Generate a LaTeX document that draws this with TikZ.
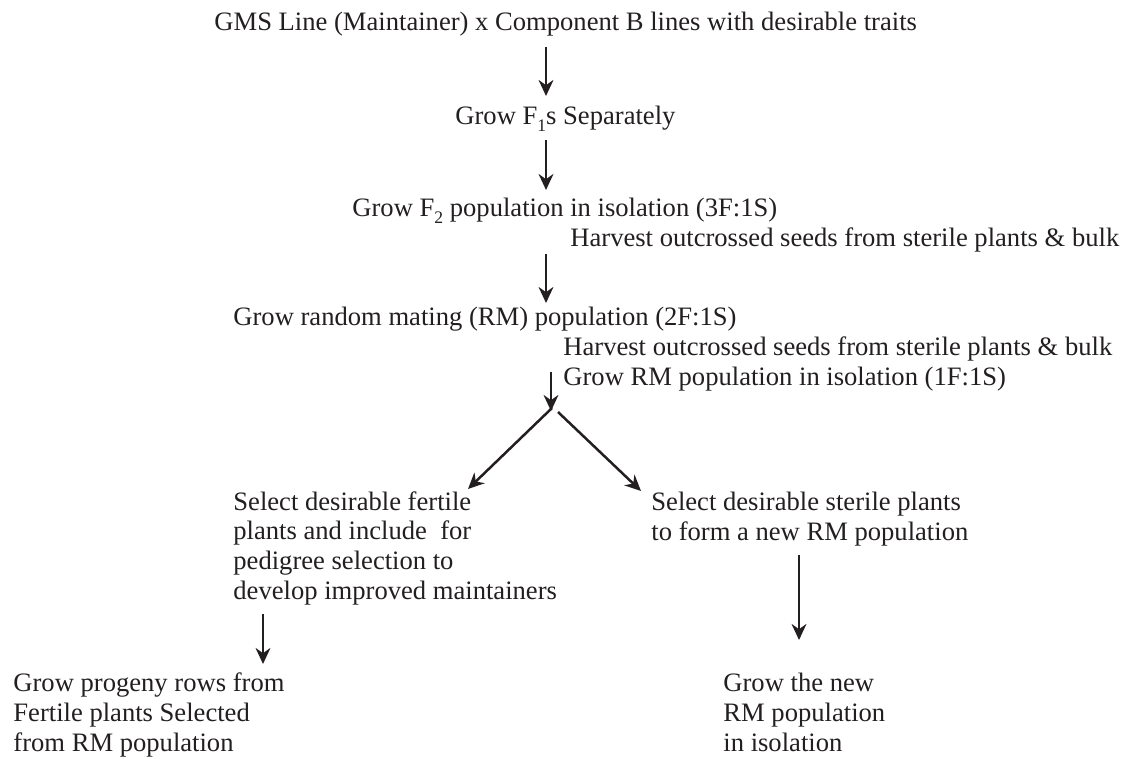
\documentclass[tikz,border=0pt]{standalone}
\usepackage{fontspec}
\setmainfont{Liberation Serif}
\usetikzlibrary{arrows.meta}
\definecolor{ink}{RGB}{35,31,32}
\newcommand{\lowsub}[1]{\raisebox{-3.2pt}{\fontsize{8.8}{8.8}\selectfont #1}}

\begin{document}
\begin{tikzpicture}[
  x=0.5pt, y=-0.5pt,
  txt/.style={anchor=base west, inner sep=0pt, align=left, text=ink,
              font=\fontsize{13.3}{14.8}\selectfont},
  flow/.style={-{Stealth[length=8pt,width=7.4pt,inset=2.6pt]}, draw=ink, line width=1.25pt}
]
\useasboundingbox (0,0) rectangle (1123,759);

% main spine
\node[txt] (gms)   at (214,31)  {GMS Line (Maintainer) x Component B lines with desirable traits};
\node[txt] (fone)  at (455,125) {Grow F\lowsub{1}s Separately};
\node[txt] (ftwo)  at (352,217) {Grow F\lowsub{2} population in isolation (3F:1S)};
\node[txt] (hone)  at (570,247) {Harvest outcrossed seeds from sterile plants \& bulk};
\node[txt] (rm)    at (233,325) {Grow random mating (RM) population (2F:1S)};
\node[txt] (htwo)  at (563,355) {Harvest outcrossed seeds from sterile plants \& bulk};
\node[txt] (rmiso) at (563,385) {Grow RM population in isolation (1F:1S)};

% the two branches (base = last line)
\node[txt] (fert)  at (233,599) {Select desirable fertile\\plants and include\ \ for\\pedigree selection to\\develop improved maintainers};
\node[txt] (ster)  at (651,540) {Select desirable sterile plants\\to form a new RM population};
\node[txt] (prog)  at (13,751)  {Grow progeny rows from\\Fertile plants Selected\\from RM population};
\node[txt] (newrm) at (723,751) {Grow the new\\RM population\\in isolation};

% arrow ends
\coordinate (gmsout)  at (546,47);
\coordinate (foneIn)  at (546,96);
\coordinate (foneout) at (546,140);
\coordinate (ftwoIn)  at (546,190);
\coordinate (ftwoout) at (546,254);
\coordinate (rmIn)    at (546,303);
\coordinate (rmout)   at (551,372);
\coordinate (split)   at (551,411);
\coordinate (splitL)  at (552,408);
\coordinate (splitR)  at (558,412);
\coordinate (fertIn)  at (468,489);
\coordinate (sterIn)  at (641,491);
\coordinate (fertout) at (263,614);
\coordinate (progIn)  at (263,664);
\coordinate (sterout) at (799,555);
\coordinate (newIn)   at (799,640);

\draw[flow] (gmsout)  -- (foneIn);
\draw[flow] (foneout) -- (ftwoIn);
\draw[flow] (ftwoout) -- (rmIn);
\draw[flow] (rmout)   -- (split);
\draw[flow] (splitL)  -- (fertIn);
\draw[flow] (splitR)  -- (sterIn);
\draw[flow] (fertout) -- (progIn);
\draw[flow] (sterout) -- (newIn);
\end{tikzpicture}
\end{document}
